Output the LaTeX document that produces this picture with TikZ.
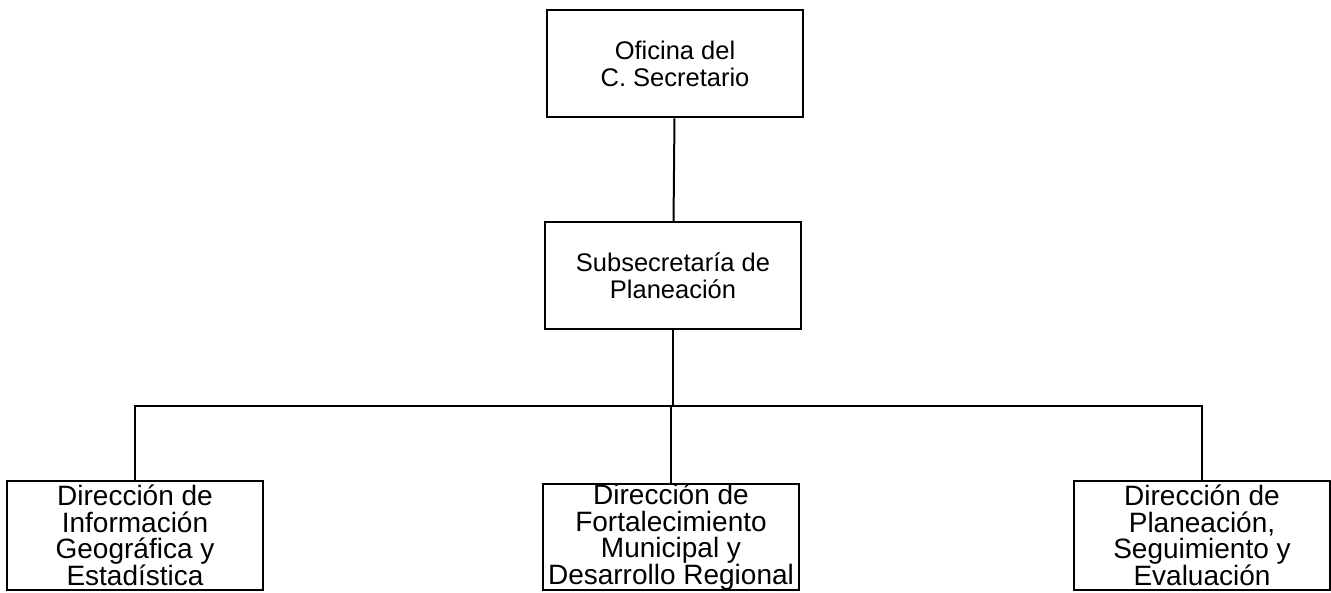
\documentclass[tikz,border=0pt]{standalone}
\usepackage{fontspec}
\setmainfont{Liberation Sans}
\begin{document}
\begin{tikzpicture}[x=1pt, y=1pt, line width=2pt,
  unidad/.style={draw, rectangle, minimum width=256pt, minimum height=107pt, inner sep=0pt, align=center, font=\fontsize{25.5}{27}\selectfont},
  direccion/.style={unidad, font=\fontsize{28}{26.5}\selectfont}]
\useasboundingbox (0,0) rectangle (1331,593);
\node[unidad] (ofi) at (675,529){Oficina del\\C. Secretario};
\node[unidad] (sub) at (673,317){Subsecretaría de\\Planeación};
\coordinate (bar) at (673,187);
\node[direccion, minimum height=109pt] (dig) at (135,57.5){Dirección de\\Información\\Geográfica y\\Estadística};
\node[direccion, minimum height=106pt] (dfm) at (671,56){Dirección de\\Fortalecimiento\\Municipal y\\Desarrollo Regional};
\node[direccion, minimum height=109pt] (dps) at (1202,57.5){Dirección de\\Planeación,\\Seguimiento y\\Evaluación};
\draw[](ofi) -- (sub);
\draw[](sub) -- (bar);
\draw[](bar) -| (dig);
\draw[](bar) -| (dps);
\draw[](bar) -- (bar -| dfm.north) -- (dfm);
\end{tikzpicture}
\end{document}
